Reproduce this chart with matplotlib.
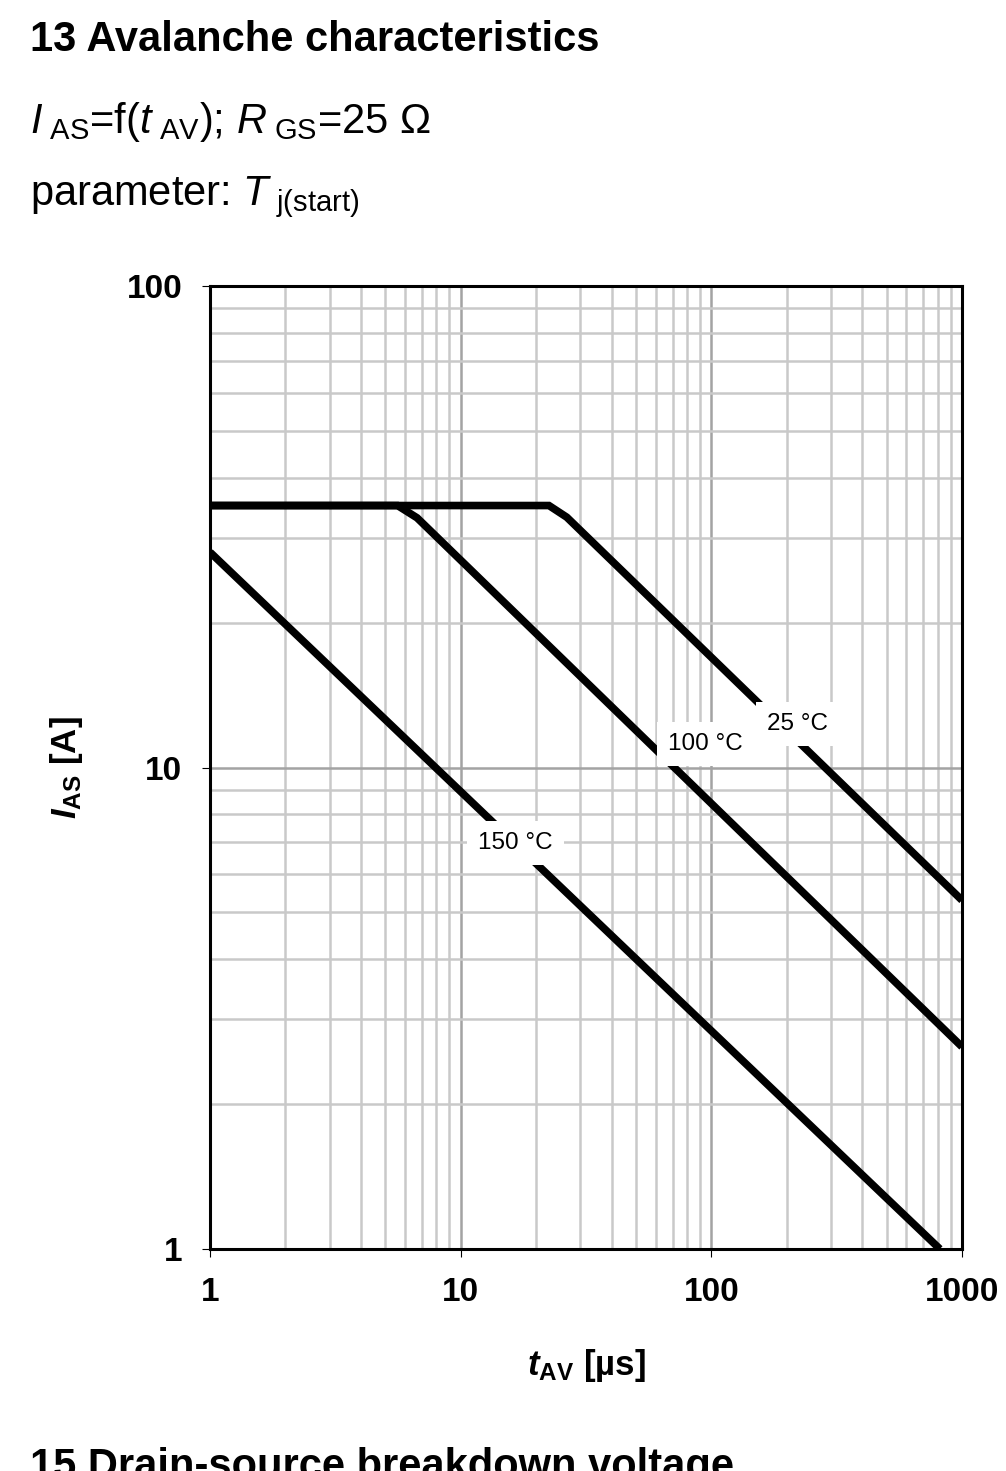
import matplotlib
matplotlib.use("Agg")
import matplotlib.pyplot as plt
from matplotlib.ticker import LogLocator, NullFormatter, FixedLocator, FixedFormatter

plt.rcParams['font.family'] = ['Liberation Sans', 'DejaVu Sans']
plt.rcParams['mathtext.fontset'] = 'custom'
plt.rcParams['mathtext.rm'] = 'Liberation Sans'
plt.rcParams['mathtext.it'] = 'Liberation Sans:italic'
plt.rcParams['mathtext.bf'] = 'Liberation Sans:bold'
plt.rcParams['mathtext.bfit'] = 'Liberation Sans:italic:bold'

# ---- data ----
t_25 = [1, 22.5, 26.5, 1000]
i_25 = [35.0, 35.0, 33.1, 5.3]
t_100 = [1, 5.6, 6.7, 1000]
i_100 = [35.0, 35.0, 33.0, 2.63]
t_150 = [1, 816]
i_150 = [28.0, 1.0]

curve_labels = ["25 °C", "100 °C", "150 °C"]
label_t = [221, 95, 16.5]
label_i = [12.3, 11.2, 6.97]

x_ticks = [1, 10, 100, 1000]
x_ticklabels = ["1", "10", "100", "1000"]
y_ticks = [1, 10, 100]
y_ticklabels = ["1", "10", "100"]

W, H = 1006, 1471
fig = plt.figure(figsize=(W / 100, H / 100), dpi=100)
ax = fig.add_axes([210 / W, 1 - 1249 / H, (962 - 210) / W, (1249 - 286) / H])

ax.set_xscale('log')
ax.set_yscale('log')
ax.set_xlim(1, 1000)
ax.set_ylim(1, 100)

# grid
ax.xaxis.set_minor_locator(LogLocator(base=10, subs=range(2, 10)))
ax.yaxis.set_minor_locator(LogLocator(base=10, subs=range(2, 10)))
ax.xaxis.set_minor_formatter(NullFormatter())
ax.yaxis.set_minor_formatter(NullFormatter())
ax.grid(True, which='minor', color='#c9c9c9', linewidth=1.8, zorder=0)
ax.grid(True, which='major', color='#a3a3a3', linewidth=1.8, zorder=0)
ax.set_axisbelow(True)

ax.xaxis.set_major_locator(FixedLocator(x_ticks))
ax.xaxis.set_major_formatter(FixedFormatter(x_ticklabels))
ax.yaxis.set_major_locator(FixedLocator(y_ticks))
ax.yaxis.set_major_formatter(FixedFormatter(y_ticklabels))
ax.tick_params(which='minor', length=0)
ax.tick_params(which='major', direction='out', length=6, width=0.8, color='black')
ax.tick_params(axis='x', labelsize=24, pad=14)
ax.tick_params(axis='y', labelsize=24, pad=14)
for lab in ax.get_xticklabels() + ax.get_yticklabels():
    lab.set_fontweight('bold')

for sp in ax.spines.values():
    sp.set_linewidth(2.2)
    sp.set_color('black')

lw = 5.5
ax.plot(t_25, i_25, color='black', lw=lw, solid_capstyle='butt', solid_joinstyle='miter', zorder=3)
ax.plot(t_100, i_100, color='black', lw=lw, solid_capstyle='butt', solid_joinstyle='miter', zorder=3)
ax.plot(t_150, i_150, color='black', lw=lw, solid_capstyle='butt', solid_joinstyle='miter', zorder=3)

for txt, tx, ty in zip(curve_labels, label_t, label_i):
    ax.text(tx, ty, txt, fontsize=17.5, ha='center', va='center', zorder=5,
            bbox=dict(facecolor='white', edgecolor='none', pad=8))

ax.set_xlabel(r'$\mathbfit{t}_{\mathbf{AV}}$ [µs]', fontsize=25, fontweight='bold', labelpad=28)
ax.set_ylabel(r'$\mathbfit{I}_{\mathbf{AS}}$ [A]', fontsize=25, fontweight='bold', labelpad=30)

# header texts
fig.text(30 / W, 1 - 40 / H, '13 Avalanche characteristics', fontsize=30, fontweight='bold',
         ha='left', va='center')
fig.text(30 / W, 1 - 122 / H, r'$I_{\ \mathrm{AS}}$=f($t_{\ \mathrm{AV}}$); $R_{\ \mathrm{GS}}$=25 Ω',
         fontsize=30, ha='left', va='center')
fig.text(30 / W, 1 - 197 / H, r'parameter: $T_{\ \mathrm{j(start)}}$', fontsize=30,
         ha='left', va='center')

fig.text(30 / W, 1 - 1467 / H, '15 Drain-source breakdown voltage', fontsize=30, fontweight='bold',
         ha='left', va='center')

fig.savefig('out.png', dpi=100)
